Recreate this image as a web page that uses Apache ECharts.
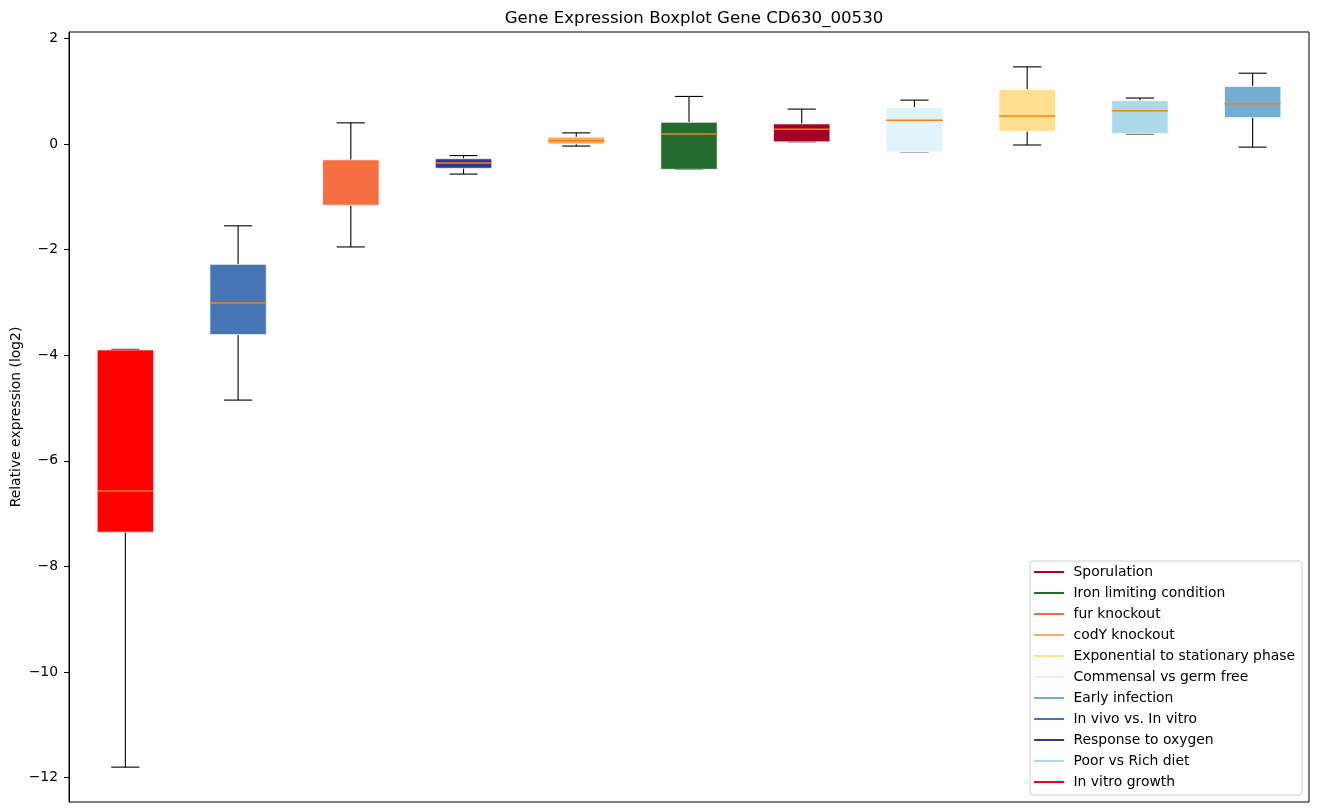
<!DOCTYPE html>
<html>
<head>
<meta charset="utf-8">
<script src="https://cdn.jsdelivr.net/npm/echarts@6/dist/echarts.min.js"></script>
<style>
html,body{margin:0;padding:0;background:#fff;}
#chart{width:1318px;height:812px;}
</style>
</head>
<body>
<div id="chart"></div>
<script>
// Boxes, left to right
const boxNames = ["In vitro growth","In vivo vs. In vitro","fur knockout","Response to oxygen","codY knockout","Iron limiting condition","Sporulation","Commensal vs germ free","Exponential to stationary phase","Poor vs Rich diet","Early infection"];
const boxColors = ["#ff0000","#4575b4","#f46d43","#313695","#fdae61","#236c2d","#a50026","#e0f3f8","#fee090","#abd9e9","#74add1"];
const whiskerLow = [-11.80,-4.85,-1.95,-0.57,-0.04,-0.48,0.04,-0.15,-0.02,0.19,-0.06];
const q1Values   = [-7.35,-3.61,-1.16,-0.46,0.00,-0.48,0.04,-0.15,0.24,0.20,0.50];
const medians    = [-6.57,-3.01,-0.41,-0.36,0.06,0.19,0.28,0.45,0.53,0.63,0.76];
const q3Values   = [-3.90,-2.28,-0.30,-0.28,0.13,0.41,0.38,0.69,1.03,0.82,1.09];
const whiskerHigh= [-3.89,-1.55,0.40,-0.22,0.21,0.90,0.66,0.83,1.46,0.87,1.34];
const legendOrder = ["Sporulation","Iron limiting condition","fur knockout","codY knockout","Exponential to stationary phase","Commensal vs germ free","Early infection","In vivo vs. In vitro","Response to oxygen","Poor vs Rich diet","In vitro growth"];
const yTicks = [-12,-10,-8,-6,-4,-2,0,2];
const yMin = -12.46, yMax = 2.12;

const chart = echarts.init(document.getElementById('chart'), null, {renderer:'canvas'});
const FONT = 'DejaVu Sans';

function renderBox(params, api) {
  const x = api.value(0);
  const lo = api.coord([x, api.value(1)]);
  const q1 = api.coord([x, api.value(2)]);
  const md = api.coord([x, api.value(3)]);
  const q3 = api.coord([x, api.value(4)]);
  const hi = api.coord([x, api.value(5)]);
  const bw = api.size([1, 0])[0] * 0.5;
  const cx = lo[0];
  const color = api.visual('color');
  const black = {stroke:'#000', lineWidth:1.1};
  return {
    type:'group',
    children:[
      {type:'line', shape:{x1:cx,y1:q1[1],x2:cx,y2:lo[1]}, style:black},
      {type:'line', shape:{x1:cx,y1:q3[1],x2:cx,y2:hi[1]}, style:black},
      {type:'line', shape:{x1:cx-bw/4,y1:lo[1],x2:cx+bw/4,y2:lo[1]}, style:black},
      {type:'line', shape:{x1:cx-bw/4,y1:hi[1],x2:cx+bw/4,y2:hi[1]}, style:black},
      {type:'rect', shape:{x:cx-bw/2,y:q3[1],width:bw,height:Math.max(q1[1]-q3[1],1)},
        style:{fill:color, stroke:'rgba(255,255,255,0.7)', lineWidth:1}},
      {type:'line', shape:{x1:cx-bw/2,y1:md[1],x2:cx+bw/2,y2:md[1]}, style:{stroke:'#ff7f0e', lineWidth:1.5}}
    ]
  };
}

const series = boxNames.map((name, i) => ({
  name: name,
  type: 'custom',
  renderItem: renderBox,
  itemStyle: {color: boxColors[i]},
  encode: {x: 0, y: [1,2,3,4,5]},
  data: [[i, whiskerLow[i], q1Values[i], medians[i], q3Values[i], whiskerHigh[i]]],
  silent: true,
  animation: false
}));

chart.setOption({
  animation: false,
  backgroundColor: '#fff',
  title: {
    text: 'Gene Expression Boxplot Gene CD630_00530',
    left: 689, top: 5, textAlign: 'center',
    textStyle: {fontFamily: FONT, fontSize: 16.6, fontWeight: 'normal', color: '#000'}
  },
  grid: {left: 69, right: 9, top: 32, bottom: 10, show: true, borderColor: '#000', borderWidth: 1,
    backgroundColor: 'transparent', outerBoundsMode: 'none', containLabel: false},
  legend: {
    orient: 'vertical',
    right: 16, bottom: 17,
    data: legendOrder,
    icon: 'rect',
    itemWidth: 30, itemHeight: 2,
    itemGap: 5,
    padding: [3, 7, 5, 4],
    borderColor: '#d0d0d0', borderWidth: 1, borderRadius: 3,
    backgroundColor: 'rgba(255,255,255,0.8)',
    formatter: name => ' ' + name,
    textStyle: {fontFamily: FONT, fontSize: 13.9, color: '#000', lineHeight: 16},
    selectedMode: false
  },
  xAxis: {
    type: 'category',
    data: boxNames,
    boundaryGap: true,
    axisLabel: {show: false},
    axisTick: {show: false},
    axisLine: {show: false, onZero: false},
    splitLine: {show: false}
  },
  yAxis: {
    type: 'value',
    min: yMin, max: yMax,
    name: 'Relative expression (log2)',
    nameLocation: 'middle',
    nameGap: 46,
    nameMoveOverlap: false,
    nameTextStyle: {fontFamily: FONT, fontSize: 13.9, color: '#000'},
    axisLine: {show: true, onZero: false, lineStyle: {color: '#000'}},
    axisTick: {show: true, length: 5, customValues: yTicks, lineStyle: {color: '#000'}},
    axisLabel: {
      customValues: yTicks,
      fontFamily: FONT, fontSize: 13.9, color: '#000', margin: 11,
      formatter: v => (v < 0 ? '\u2212' + Math.abs(v) : String(v))
    },
    splitLine: {show: false}
  },
  series: series
});
</script>
</body>
</html>
